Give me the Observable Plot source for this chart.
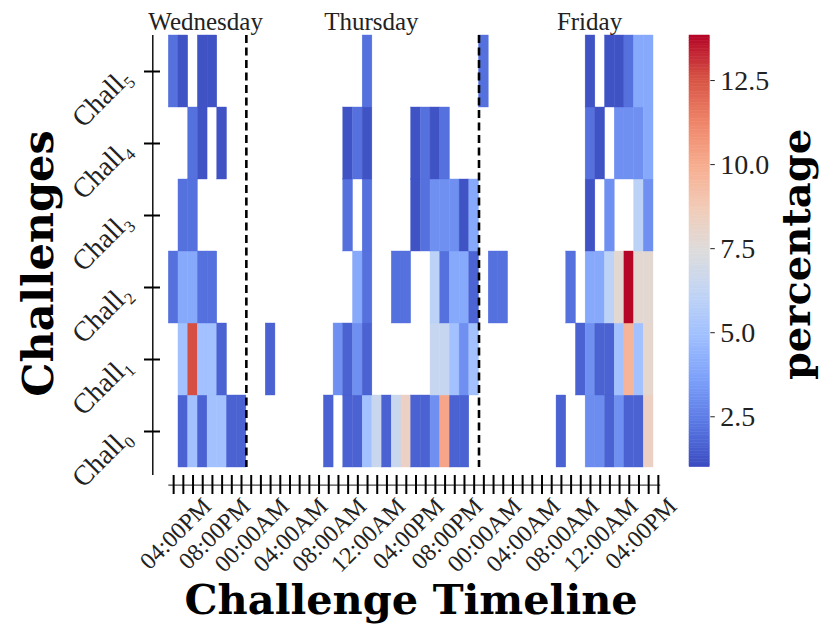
<!DOCTYPE html>
<html><head><meta charset="utf-8">
<script src="https://cdn.jsdelivr.net/npm/d3@7"></script>
<script src="https://cdn.jsdelivr.net/npm/@observablehq/plot@0.6"></script>
<style>
body{margin:0;background:#fff;}
#wrap{position:relative;width:821px;height:629px;overflow:hidden;}
#wrap svg{position:absolute;left:0;top:0;}
</style></head><body><div id="wrap"></div>
<script>
// ---- data ----
const _ = null;
// hour index 0 = Wednesday 04:00PM, one column per hour
const hours = d3.range(50);
const challenges = ["Chall₀", "Chall₁", "Chall₂", "Chall₃", "Chall₄", "Chall₅"];
const chall0 = [
  _,1.65,5.0,1.65,5.0,5.0,1.65,1.65,_,_,
  _,_,_,_,_,_,1.65,_,1.65,1.65,
  5.0,6.5,1.65,6.5,8.3,1.65,1.65,3.1,10.2,1.65,
  1.65,_,_,_,_,_,_,_,_,_,
  1.65,_,_,3.0,3.0,1.65,3.1,1.65,1.65,8.3
];
const chall1 = [
  _,5.0,12.6,5.0,5.0,1.65,_,_,_,_,
  1.65,_,_,_,_,_,_,3.1,1.65,3.1,
  1.65,_,_,_,_,_,_,6.4,6.4,5.0,
  3.1,5.0,_,_,_,_,_,_,_,_,
  _,_,1.65,3.1,1.65,1.65,5.0,9.6,5.0,7.9
];
const chall2 = [
  2.1,4.0,4.0,2.1,2.1,_,_,_,_,_,
  _,_,_,_,_,_,_,_,_,4.0,
  2.1,_,_,2.1,2.1,_,_,6.0,2.1,4.0,
  4.0,1.7,_,2.1,2.1,_,_,_,_,_,
  _,2.1,_,4.0,4.0,6.0,7.8,13.8,7.8,7.8
];
const chall3 = [
  _,2.1,2.1,_,_,_,_,_,_,_,
  _,_,_,_,_,_,_,_,2.1,_,
  2.1,_,_,_,_,1.2,2.1,3.1,3.1,3.1,
  1.2,4.0,_,_,_,_,_,_,_,_,
  _,_,_,1.2,_,3.1,_,_,6.0,3.1
];
const chall4 = [
  _,_,2.1,1.2,_,1.2,_,_,_,_,
  _,_,_,_,_,_,_,_,1.2,2.1,
  1.2,_,_,_,_,1.2,2.1,1.2,2.1,_,
  _,_,_,_,_,_,_,_,_,_,
  _,_,_,2.1,1.2,_,3.1,3.1,3.1,4.0
];
const chall5 = [
  2.1,1.2,_,1.2,1.2,_,_,_,_,_,
  _,_,_,_,_,_,_,_,_,_,
  2.1,_,_,_,_,_,_,_,_,_,
  _,_,2.1,_,_,_,_,_,_,_,
  _,_,_,1.2,_,1.2,1.2,2.1,4.0,4.0
];
const tickHours = d3.range(51);
const tickLabels = ["04:00PM","08:00PM","00:00AM","04:00AM","08:00AM","12:00AM",
                    "04:00PM","08:00PM","00:00AM","04:00AM","08:00AM","12:00AM","04:00PM"];
const tickLabelHours = [0,4,8,12,16,20,24,28,32,36,40,44,48];
const dayNames = ["Wednesday", "Thursday", "Friday"];
const dayLabelHours = [3.8, 20.9, 43.4];
const dayBoundaries = [8, 32];
const colorDomain = [1.0, 13.84];
const colorbarTicks = [2.5, 5.0, 7.5, 10.0, 12.5];

// ---- build ----
const series = [chall0, chall1, chall2, chall3, chall4, chall5];
const cells = [];
series.forEach((vals, r) => hours.forEach(h => {
  if (vals[h] != null) cells.push({hour: h, row: r, value: vals[h]});
}));
const coolwarm = d3.piecewise(d3.interpolateRgb, ["#3b4cc0","#5977e3","#7b9ff9","#9ebeff","#c0d4f5","#dddcdc","#f2cbb7","#f7ac8e","#ee8468","#d65244","#b40426"]);
const colorOpts = {type: "linear", domain: colorDomain, interpolate: coolwarm};
const rowCenters = challenges.map((c, r) => r + 0.5);
const tickPos = tickHours.map(h => h + 0.5);
const labelData = tickLabels.map((t, i) => ({x: tickLabelHours[i] + 0.5, text: t}));
const dayData = dayNames.map((d, i) => ({x: dayLabelHours[i], text: d}));
const serif = "'Liberation Serif', 'Times New Roman', serif";
const boldSerif = "'DejaVu Serif', serif";

const main = Plot.plot({
  width: 821, height: 629,
  marginLeft: 168.3, marginRight: 168, marginTop: 35, marginBottom: 162,
  x: {type: "linear", domain: [0, hours.length]},
  y: {type: "linear", domain: [0, challenges.length]},
  color: colorOpts,
  style: {fontFamily: serif, background: "white", overflow: "visible"},
  marks: [
    Plot.rect(cells, {x1: "hour", x2: d => d.hour + 1, y1: "row", y2: d => d.row + 1,
      fill: "value", stroke: "value", strokeWidth: 0.4}),
    Plot.ruleX(dayBoundaries, {stroke: "black", strokeWidth: 2.6, strokeDasharray: "8,4.5"}),
    // left spine + y ticks
    Plot.ruleX([0], {dx: -16, stroke: "black", strokeWidth: 1.4, insetBottom: -8}),
    Plot.axisY({ticks: rowCenters, tickSize: 16, dx: -8.3, tickFormat: () => "", label: null, stroke: "black", strokeWidth: 2}),
    Plot.text(challenges, {y: (d, i) => rowCenters[i], text: d => d, frameAnchor: "left",
      dx: -42, dy: 1, rotate: -45, textAnchor: "end", lineAnchor: "middle", fontSize: 28, fill: "#222"}),
    // x axis
    Plot.ruleY([0], {x1: tickPos[0] - 0.5, x2: tickPos[tickPos.length - 1] + 0.25, dy: 17.7, stroke: "#444", strokeWidth: 1.2}),
    Plot.axisX({ticks: tickPos, tickSize: 19, dy: 8, tickFormat: () => "", label: null, stroke: "black", strokeWidth: 2}),
    Plot.text(labelData, {x: "x", text: "text", frameAnchor: "bottom", dx: 27, dy: 28,
      rotate: -45, textAnchor: "end", lineAnchor: "top", fontSize: 24, fill: "#222"}),
    // day labels
    Plot.text(dayData, {x: "x", text: "text", frameAnchor: "top", dy: -6, lineAnchor: "bottom", fontSize: 25, fill: "#222"}),
    // titles
    Plot.text(["Challenge Timeline"], {frameAnchor: "bottom", dy: 146, lineAnchor: "bottom",
      fontFamily: boldSerif, fontWeight: "bold", fontSize: 41.5, fill: "black"}),
    Plot.text(["Challenges"], {frameAnchor: "left", dx: -130, dy: 12, rotate: -90, textAnchor: "middle",
      fontFamily: boldSerif, fontWeight: "bold", fontSize: 43, fill: "black"}),
    Plot.text(["percentage"], {frameAnchor: "right", dx: 144, dy: 3, rotate: -90, textAnchor: "middle",
      fontFamily: boldSerif, fontWeight: "bold", fontSize: 40, fill: "black"})
  ]
});

const steps = d3.range(160).map(i => {
  const lo = colorDomain[0] + i * (colorDomain[1] - colorDomain[0]) / 160;
  const hi = colorDomain[0] + (i + 1) * (colorDomain[1] - colorDomain[0]) / 160;
  return {lo, hi, mid: (lo + hi) / 2};
});
const cbar = Plot.plot({
  width: 821, height: 629,
  marginLeft: 689, marginRight: 111.7, marginTop: 35, marginBottom: 162.3,
  y: {type: "linear", domain: colorDomain},
  color: colorOpts,
  style: {fontFamily: serif, background: "transparent", overflow: "visible"},
  marks: [
    Plot.rect(steps, {y1: "lo", y2: "hi", fill: "mid", stroke: "mid", strokeWidth: 0.5}),
    Plot.axisY({anchor: "right", ticks: colorbarTicks, tickFormat: d3.format(".1f"), label: null,
      tickSize: 4.5, tickPadding: 6, fontSize: 28, stroke: "#222", fill: "#222"})
  ]
});
cbar.style.pointerEvents = "none";
const wrap = document.getElementById("wrap");
wrap.appendChild(main);
wrap.appendChild(cbar);
</script></body></html>
